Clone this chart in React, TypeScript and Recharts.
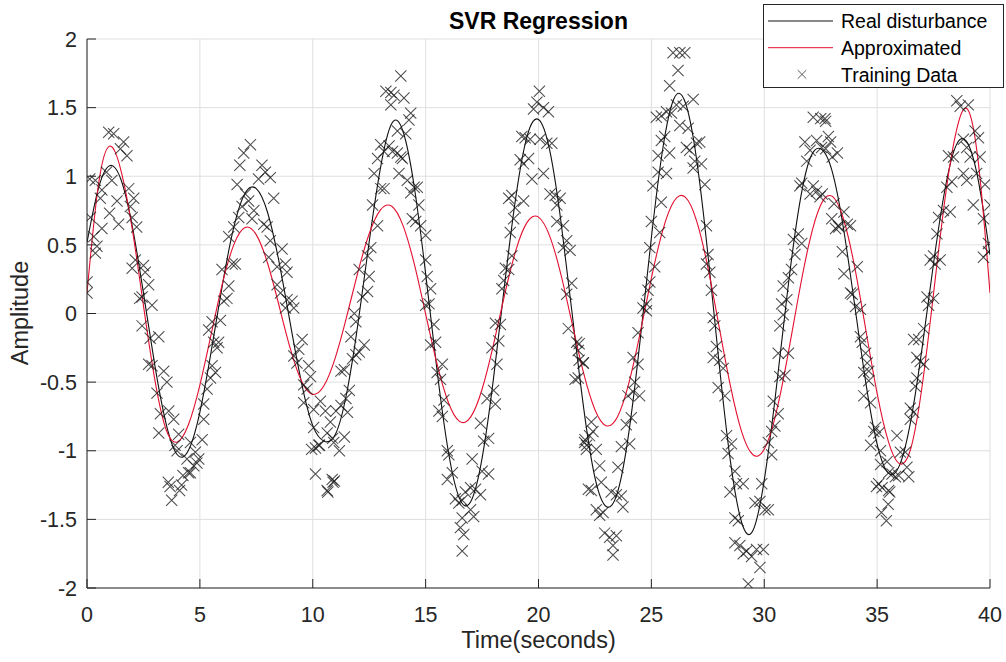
import { ComposedChart, Line, Scatter, XAxis, YAxis, CartesianGrid, Legend, Label } from 'recharts';

const FONT = '"Liberation Sans", Arial, Helvetica, sans-serif';
const INK = '#262626';
const RED = '#e3102e';

// time base for the two curves (seconds)
const timeSteps: number[] = [
  0, 0.5, 1, 1.5, 2, 2.5, 3, 3.5, 4, 4.5, 5, 5.5, 6, 6.5, 7, 7.5, 8, 8.5, 9, 9.5,
  10, 10.5, 11, 11.5, 12, 12.5, 13, 13.5, 14, 14.5, 15, 15.5, 16, 16.5, 17, 17.5, 18, 18.5, 19, 19.5,
  20, 20.5, 21, 21.5, 22, 22.5, 23, 23.5, 24, 24.5, 25, 25.5, 26, 26.5, 27, 27.5, 28, 28.5, 29, 29.5,
  30, 30.5, 31, 31.5, 32, 32.5, 33, 33.5, 34, 34.5, 35, 35.5, 36, 36.5, 37, 37.5, 38, 38.5, 39, 39.5, 40,
];

const realDisturbance: number[] = [
  0.517, 0.908, 1.077, 0.978, 0.64, 0.15, -0.373, -0.8, -1.029, -0.995, -0.718, -0.278, 0.21, 0.627, 0.876, 0.91, 0.736, 0.381, -0.069, -0.504,
  -0.817, -0.93, -0.882, -0.583, -0.077, 0.522, 1.061, 1.385, 1.326, 0.92, 0.291, -0.406, -1.0, -1.347, -1.37, -1.055, -0.482, 0.212, 0.853, 1.294,
  1.414, 1.187, 0.663, -0.013, -0.688, -1.195, -1.406, -1.303, -0.87, -0.198, 0.552, 1.195, 1.565, 1.539, 1.127, 0.437, -0.362, -1.074, -1.523, -1.581,
  -1.214, -0.592, 0.117, 0.733, 1.117, 1.2, 1.041, 0.63, 0.068, -0.505, -0.951, -1.163, -1.103, -0.773, -0.241, 0.366, 0.9, 1.225, 1.243, 0.954, 0.428,
];

const approximated: number[] = [
  0.15, 0.931, 1.219, 1.045, 0.62, 0.059, -0.478, -0.843, -0.936, -0.807, -0.522, -0.151, 0.22, 0.5, 0.627, 0.573, 0.366, 0.062, -0.253, -0.492,
  -0.589, -0.525, -0.321, -0.024, 0.301, 0.581, 0.755, 0.781, 0.64, 0.359, -0.003, -0.364, -0.645, -0.786, -0.753, -0.552, -0.23, 0.137, 0.462, 0.666,
  0.702, 0.562, 0.28, -0.081, -0.435, -0.701, -0.818, -0.752, -0.509, -0.145, 0.257, 0.604, 0.818, 0.848, 0.677, 0.338, -0.095, -0.526, -0.862, -1.029,
  -0.989, -0.742, -0.345, 0.111, 0.52, 0.79, 0.855, 0.694, 0.343, -0.12, -0.582, -0.934, -1.095, -0.978, -0.521, 0.146, 0.827, 1.323, 1.489, 1.076, 0.15,
];

// noisy samples [time, amplitude]
const trainingData: [number, number][] = [
  [0.0, 0.23], [0.0, 0.15], [0.12, 0.98], [0.15, 0.7], [0.3, 0.56], [0.37, 0.97], [0.37, 0.44], [0.44, 0.49], [0.59, 0.84], [0.66, 0.62],
  [0.66, 0.9], [0.86, 1.03], [0.96, 1.32], [1.0, 0.73], [1.1, 0.97], [1.18, 1.31], [1.33, 0.82], [1.4, 0.65], [1.48, 1.2], [1.62, 1.25],
  [1.77, 1.15], [1.85, 0.91], [1.92, 0.78], [2.0, 0.7], [2.07, 0.84], [2.2, 0.63], [2.0, 0.33], [2.14, 0.39], [2.33, 0.11], [2.44, 0.12],
  [2.5, 0.35], [2.58, 0.3], [2.73, 0.21], [2.88, 0.06], [2.44, -0.09], [2.8, -0.18], [3.18, -0.17], [2.73, -0.37], [2.88, -0.38], [3.4, -0.42],
  [3.54, -0.5], [3.1, -0.58], [3.25, -0.73], [3.62, -0.71], [3.18, -0.87], [3.84, -0.77], [4.06, -0.88], [3.9, -0.96], [3.99, -1.0], [4.58, -0.94],
  [4.8, -1.01], [4.43, -1.06], [4.95, -1.06], [4.73, -1.11], [3.6, -1.23], [3.68, -1.26], [3.75, -1.36], [4.19, -1.25], [4.1, -1.29], [4.25, -1.18],
  [4.5, -1.16], [4.87, -1.09], [4.58, -1.16],
  [5.1, -0.92], [5.17, -0.77], [5.17, -0.66], [5.32, -0.55], [5.47, -0.47], [5.54, -0.38], [5.69, -0.43], [5.76, -0.25], [5.61, -0.21], [5.39, -0.12],
  [5.54, -0.06], [5.83, -0.21], [5.91, -0.05], [6.06, 0.09], [6.2, 0.11], [5.98, 0.32], [6.28, 0.2], [6.43, 0.36], [6.57, 0.36], [6.28, 0.56],
  [6.5, 0.63], [6.72, 0.7], [6.87, 0.78], [6.65, 0.94], [6.77, 1.08], [6.94, 1.17], [7.24, 1.23], [7.02, 0.87], [7.16, 0.82], [7.39, 0.75],
  [7.31, 0.69], [7.6, 0.98], [7.75, 1.08], [7.9, 1.03], [8.12, 0.99], [7.83, 0.65], [7.98, 0.63], [8.27, 0.84], [8.12, 0.53], [8.05, 0.41],
  [8.42, 0.34], [8.64, 0.47], [8.79, 0.36], [8.86, 0.3], [8.42, 0.21], [8.57, 0.15], [8.86, 0.1], [9.08, 0.09], [8.79, 0.04], [9.16, 0.04],
  [9.53, -0.19], [9.38, -0.26], [9.16, -0.31], [9.3, -0.36], [9.82, -0.38], [9.9, -0.46], [9.6, -0.52], [9.75, -0.55], [9.6, -0.65], [10.04, -0.7],
  [10.34, -0.64], [10.56, -0.71], [10.04, -0.83], [10.27, -0.96], [10.12, -0.98], [10.78, -0.79], [10.93, -0.94], [10.64, -0.87], [10.12, -1.17], [10.64, -1.29],
  [10.86, -1.21], [9.95, -0.99], [10.3, -0.96], [10.67, -1.3], [10.9, -1.23],
  [10.96, -1.22], [10.88, -0.91], [11.4, -0.9], [11.18, -1.0], [11.03, -0.71], [11.25, -0.67], [11.54, -0.72], [11.47, -0.62], [11.62, -0.56], [11.25, -0.42],
  [11.4, -0.41], [11.76, -0.33], [11.91, -0.3], [12.06, -0.28], [12.28, -0.23], [11.69, -0.17], [11.91, -0.06], [11.84, 0.0], [12.21, 0.12], [12.06, 0.32],
  [12.43, 0.16], [12.5, 0.27], [12.57, 0.48], [12.43, 0.42], [12.65, 0.79], [12.87, 0.64], [12.72, 1.02], [13.01, 0.91], [13.16, 0.91], [12.87, 1.13],
  [13.01, 1.23], [13.16, 1.18], [13.38, 1.22], [13.53, 1.18], [13.75, 1.17], [13.97, 1.13], [13.82, 1.02], [13.9, 1.14], [13.24, 1.62], [13.46, 1.61],
  [13.6, 1.59], [13.46, 1.52], [13.9, 1.73], [14.04, 1.57], [14.34, 1.46], [14.26, 1.41], [13.75, 1.33], [14.12, 1.31], [14.19, 0.97], [14.34, 0.88],
  [14.49, 0.92], [14.63, 0.92], [14.7, 0.79], [14.41, 0.69], [14.56, 0.67], [14.78, 0.64], [15.0, 0.57], [15.0, 0.39], [15.07, 0.27], [15.22, 0.18],
  [15.0, 0.06], [15.15, 0.07], [15.37, -0.08], [15.22, -0.23], [15.44, -0.21], [15.74, -0.37], [15.51, -0.43], [15.66, -0.48], [15.81, -0.63], [15.59, -0.71],
  [15.74, -0.75], [15.96, -1.0], [16.03, -1.03], [15.96, -1.21], [16.18, -1.16], [16.32, -1.35], [16.47, -1.38], [16.62, -1.36], [16.76, -1.3], [16.99, -1.27],
  [16.62, -1.49], [16.69, -1.61], [16.54, -1.56], [16.62, -1.73], [17.13, -1.48], [16.99, -1.43], [17.43, -1.32], [17.21, -1.28], [17.06, -1.06], [17.79, -1.17],
  [17.5, -1.15], [17.57, -0.93], [17.79, -0.91], [17.43, -0.8], [17.72, -0.62], [18.01, -0.56], [18.09, -0.66], [18.16, -0.37], [17.94, -0.25], [18.24, -0.2],
  [18.09, -0.07], [18.31, -0.08], [18.38, 0.18], [18.46, 0.24], [18.53, 0.33], [18.68, 0.32], [18.82, 0.42], [18.75, 0.59], [18.9, 0.69], [18.68, 0.84],
  [18.82, 0.86], [18.97, 0.77], [19.34, 0.82], [19.19, 1.12], [19.34, 1.09], [19.56, 1.13], [19.26, 1.29], [19.41, 1.28], [19.63, 1.27], [19.71, 0.98],
  [19.78, 1.49], [19.93, 1.54], [20.04, 1.62], [20.22, 1.5], [20.44, 1.47], [20.07, 1.27], [20.37, 1.24], [20.59, 1.24], [20.22, 1.02], [20.51, 0.87],
  [20.74, 0.86], [20.81, 0.79], [20.96, 0.84], [20.81, 0.67], [21.1, 0.64], [21.25, 0.53], [21.1, 0.48], [21.4, 0.46], [21.47, 0.22], [21.25, 0.14],
  [21.32, -0.11], [21.69, -0.21], [21.76, -0.27], [21.99, -0.36], [21.62, -0.48], [21.76, -0.47], [22.06, -0.92], [22.13, -0.96], [22.21, -1.28],
  [21.8, -0.22], [21.97, -0.36], [21.8, -0.34], [22.04, -0.94], [22.26, -0.89], [22.41, -0.86], [22.12, -0.99], [22.56, -0.99], [22.34, -0.79], [22.71, -1.11],
  [22.34, -1.29], [22.78, -1.23], [22.56, -1.43], [22.86, -1.45], [22.71, -1.47], [22.93, -1.6], [23.15, -1.63], [23.3, -1.69], [23.3, -1.76], [23.45, -1.62],
  [23.22, -1.3], [23.45, -1.32], [23.67, -1.33], [23.74, -1.41], [23.52, -1.12], [23.67, -0.97], [24.04, -0.95], [23.89, -0.81], [24.11, -0.76], [23.96, -0.6],
  [24.19, -0.57], [24.48, -0.6], [24.26, -0.5], [24.19, -0.32], [24.41, -0.37], [24.41, -0.14], [24.63, 0.04], [24.78, 0.07], [24.85, 0.17], [24.93, 0.23],
  [24.78, 0.02], [25.15, 0.34], [24.93, 0.48], [25.0, 0.67], [25.37, 0.59], [25.07, 0.93], [25.44, 0.81], [25.3, 1.03], [25.67, 1.02], [25.81, 1.17],
  [25.3, 1.15], [25.44, 1.26], [25.59, 1.29], [25.22, 1.43], [25.44, 1.44], [25.67, 1.47], [25.89, 1.46], [25.81, 1.66], [26.18, 1.77], [25.96, 1.9],
  [26.26, 1.9], [26.48, 1.9], [26.11, 1.52], [26.41, 1.51], [26.85, 1.56], [26.26, 1.37], [26.63, 1.35], [26.55, 1.21], [26.7, 1.19], [27.0, 1.24],
  [27.14, 1.25], [26.92, 1.11], [26.85, 1.06], [27.22, 1.09], [27.37, 0.94], [27.44, 0.64], [27.51, 0.43], [27.44, 0.36], [27.59, 0.3], [27.66, 0.17],
  [27.74, -0.03], [27.81, -0.09], [27.88, -0.24], [27.74, -0.32], [28.03, -0.34], [28.18, -0.4], [27.96, -0.54], [28.26, -0.6], [28.33, -0.89], [28.55, -0.95],
  [28.4, -1.02], [28.7, -1.15], [28.48, -1.3], [28.77, -1.24], [29.07, -1.24], [28.7, -1.49], [28.85, -1.51], [28.7, -1.67], [28.92, -1.69], [29.07, -1.75],
  [29.22, -1.73], [29.29, -1.97], [29.44, -1.77], [29.59, -1.38], [29.81, -1.37], [30.03, -1.43], [30.18, -1.43], [29.66, -1.72], [29.81, -1.85], [29.96, -1.72],
  [29.89, -1.24], [30.18, -0.94], [30.33, -0.86], [30.47, -0.82], [30.33, -1.03], [30.62, -0.73], [30.4, -0.64], [30.69, -0.46], [30.92, -0.45], [30.62, -0.29],
  [31.07, -0.29], [30.69, -0.09], [30.84, -0.01], [30.77, 0.07], [31.0, 0.1], [30.84, 0.2], [31.07, 0.26], [31.21, 0.32], [31.29, 0.54], [31.51, 0.58],
  [31.36, 0.43], [31.66, 0.51], [31.58, 0.93], [31.66, 0.95], [32.03, 0.87], [32.17, 0.93], [32.32, 0.89], [32.47, 0.85], [31.88, 1.11], [32.03, 1.19],
  [31.8, 1.25], [32.17, 1.43], [32.69, 1.42], [32.32, 1.26], [32.54, 1.21], [32.84, 1.29], [32.99, 0.69], [33.28, 0.64],
  [32.5, 1.42], [32.72, 1.4], [32.72, 1.2], [32.94, 1.25], [33.24, 1.17], [33.01, 1.14], [32.57, 0.87], [33.09, 0.8], [33.16, 0.62], [33.31, 0.63],
  [33.53, 0.74], [33.68, 0.65], [33.82, 0.64], [33.46, 0.45], [33.53, 0.29], [34.12, 0.34], [33.82, 0.15], [33.9, 0.14], [34.04, 0.05], [34.26, 0.03],
  [34.26, -0.17], [34.34, -0.21], [34.49, -0.29], [34.56, -0.36], [34.41, -0.43], [34.63, -0.42], [34.63, -0.49], [34.41, -0.6], [34.71, -0.65], [34.93, -0.83],
  [34.85, -0.86], [35.07, -0.87], [34.71, -0.96], [35.15, -1.0], [35.15, -1.1], [35.44, -1.08], [35.51, -1.16], [35.66, -1.17], [35.81, -1.19], [35.96, -1.18],
  [35.88, -0.89], [36.03, -1.01], [36.25, -1.01], [36.32, -1.12], [36.4, -1.19], [35.07, -1.24], [35.22, -1.27], [35.51, -1.29], [34.97, -1.26], [35.19, -1.45],
  [35.41, -1.51], [35.49, -1.39], [35.56, -1.3], [36.47, -0.77], [36.62, -0.72], [36.47, -0.69], [36.69, -0.53], [36.76, -0.47], [36.91, -0.35], [36.76, -0.32],
  [37.06, -0.37], [36.62, -0.19], [36.84, -0.19], [37.06, -0.11], [37.21, 0.12], [37.28, 0.06], [37.5, 0.11], [37.35, 0.39], [37.5, 0.42], [37.57, 0.36],
  [37.79, 0.39], [37.65, 0.58], [37.72, 0.7], [37.94, 0.75], [38.09, 0.92], [38.31, 0.96], [38.24, 0.74], [38.16, 1.15], [38.38, 1.14], [38.53, 1.55],
  [38.68, 1.51], [39.04, 1.52], [38.82, 1.27], [38.97, 1.21], [39.12, 1.14], [39.34, 1.33], [39.49, 1.28], [38.82, 1.02], [38.97, 0.97], [39.56, 1.14],
  [39.41, 1.02], [39.78, 0.94], [40.0, 0.79], [39.26, 0.79], [39.71, 0.69], [39.71, 0.41], [39.93, 0.45], [39.93, 0.51],
];

const xTicks = [0, 5, 10, 15, 20, 25, 30, 35, 40];
const yTicks = [-2, -1.5, -1, -0.5, 0, 0.5, 1, 1.5, 2];

const realData = timeSteps.map((t, i) => ({ t, y: realDisturbance[i] }));
const approxData = timeSteps.map((t, i) => ({ t, y: approximated[i] }));
const trainData = trainingData.map(([t, y]) => ({ t, y }));

const crossPath = (cx: number, cy: number, s: number) =>
  `M${cx - s},${cy - s}L${cx + s},${cy + s}M${cx - s},${cy + s}L${cx + s},${cy - s}`;

const Cross = (props: any) => {
  const { cx, cy } = props;
  if (cx == null || cy == null) return null;
  return <path d={crossPath(cx, cy, 5.6)} stroke="#1a1a1a" strokeOpacity={0.78} strokeWidth={1.05} fill="none" />;
};

const XTick = (props: any) => {
  const { x, y, payload } = props;
  return (
    <g>
      <line x1={x} y1={y} x2={x} y2={y - 9} stroke={INK} />
      <text x={x} y={y + 34} textAnchor="middle" fontSize={21.5} fontFamily={FONT} fill={INK}>{payload.value}</text>
    </g>
  );
};

const YTick = (props: any) => {
  const { x, y, payload } = props;
  return (
    <g>
      <line x1={x} y1={y} x2={x + 9} y2={y} stroke={INK} />
      <text x={x - 10} y={y + 7.7} textAnchor="end" fontSize={21.5} fontFamily={FONT} fill={INK}>{payload.value}</text>
    </g>
  );
};

const LegendBox = () => {
  const rows = [17, 43.7, 70.4];
  return (
    <svg width={241} height={84} style={{ display: 'block' }}>
      <rect x={0.5} y={0.5} width={240} height={83} fill="#fff" stroke={INK} />
      <line x1={5} x2={70} y1={rows[0]} y2={rows[0]} stroke="#111" />
      <text x={78} y={rows[0] + 7.3} fontSize={19.5} fontFamily={FONT} fill="#000">Real disturbance</text>
      <line x1={5} x2={70} y1={rows[1]} y2={rows[1]} stroke={RED} />
      <text x={78} y={rows[1] + 7.3} fontSize={19.5} fontFamily={FONT} fill="#000">Approximated</text>
      <path d={crossPath(39, rows[2], 4.3)} stroke="#1a1a1a" strokeOpacity={0.72} fill="none" />
      <text x={78} y={rows[2] + 7.3} fontSize={19.5} fontFamily={FONT} fill="#000">Training Data</text>
    </svg>
  );
};

export default function App() {
  return (
    <div style={{ position: 'absolute', left: 0, top: 0, width: 1006, height: 662, background: '#fff' }}>
      <ComposedChart width={1006} height={662} margin={{ top: 39, right: 16, bottom: 44, left: 27 }}>
        <CartesianGrid stroke="#dfdfdf" />
        <XAxis type="number" dataKey="t" domain={[0, 40]} ticks={xTicks} interval={0} allowDataOverflow
          tickSize={0} tickMargin={0} tickLine={false} tick={<XTick />} axisLine={{ stroke: INK }} height={30}>
          <Label content={() => (
            <text x={538.5} y={648} textAnchor="middle" fontSize={23.5} fontFamily={FONT} fill={INK}>Time(seconds)</text>
          )} />
          <Label content={() => (
            <text x={538.5} y={29} textAnchor="middle" fontSize={23} fontWeight="bold" fontFamily={FONT} fill="#000">SVR Regression</text>
          )} />
        </XAxis>
        <YAxis type="number" domain={[-2, 2]} ticks={yTicks} interval={0} allowDataOverflow
          tickSize={0} tickMargin={0} tickLine={false} tick={<YTick />} axisLine={{ stroke: INK }} width={60}>
          <Label content={() => (
            <text transform="rotate(-90)" x={-313} y={28} textAnchor="middle" fontSize={23.5} fontFamily={FONT} fill={INK}>Amplitude</text>
          )} />
        </YAxis>
        <Line data={realData} dataKey="y" type="natural" stroke="#111" strokeWidth={1.1} dot={false} activeDot={false} isAnimationActive={false} legendType="none" />
        <Line data={approxData} dataKey="y" type="natural" stroke={RED} strokeWidth={1.1} dot={false} activeDot={false} isAnimationActive={false} legendType="none" />
        <Scatter data={trainData} dataKey="y" shape={Cross} isAnimationActive={false} legendType="none" />
        <Legend layout="vertical" align="center" verticalAlign="middle" width={241} height={84}
          wrapperStyle={{ left: 763, top: 4 }} content={() => <LegendBox />} />
      </ComposedChart>
    </div>
  );
}
